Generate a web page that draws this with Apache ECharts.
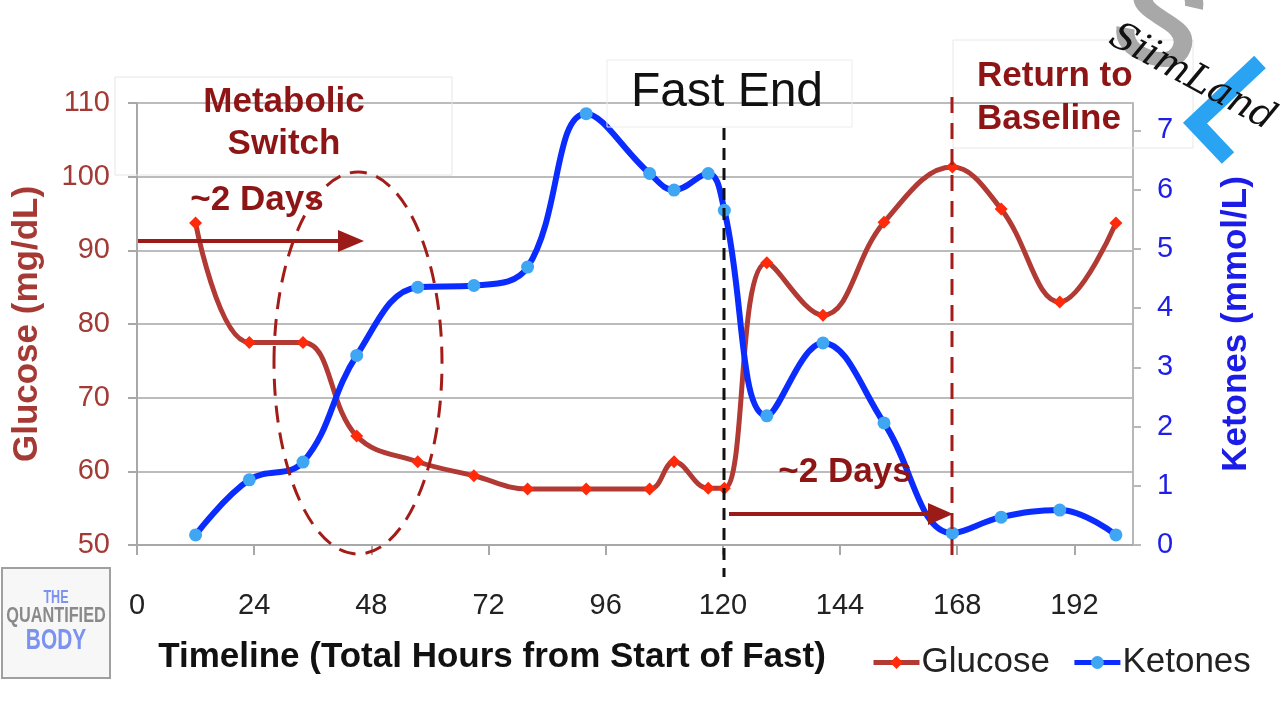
<!DOCTYPE html>
<html>
<head>
<meta charset="utf-8">
<script src="https://cdn.jsdelivr.net/npm/echarts@6/dist/echarts.min.js"></script>
<style>
html,body{margin:0;padding:0;background:#fff;}
#c{width:1280px;height:720px;}
</style>
</head>
<body>
<div id="c"></div>
<script>
// ---- data ----
var hours    = [12, 23, 34, 45, 57.5, 69, 80, 92, 105, 110, 117, 120.3, 129, 140.5, 153, 167, 177, 189, 200.5];
var glucose  = [93.7, 77.5, 77.5, 64.8, 61.3, 59.4, 57.6, 57.6, 57.6, 61.3, 57.7, 57.7, 88.3, 81.2, 93.8, 101.3, 95.6, 83.0, 93.7];
var ketones  = [0.17, 1.10, 1.40, 3.20, 4.35, 4.38, 4.69, 7.28, 6.27, 5.99, 6.27, 5.65, 2.18, 3.41, 2.06, 0.20, 0.47, 0.59, 0.17];
var xTicks   = [0, 24, 48, 72, 96, 120, 144, 168, 192];
var ketTicks = [0, 1, 2, 3, 4, 5, 6, 7];
var seriesNames = ['Glucose', 'Ketones'];

var FONT = 'Liberation Sans, Arial, sans-serif';
var gData = hours.map(function (h, i) { return [h, glucose[i]]; });
var kData = hours.map(function (h, i) { return [h, ketones[i]]; });

var darkRed = '#8e1515';
var chart = echarts.init(document.getElementById('c'), null, {renderer: 'canvas'});

var option = {
  backgroundColor: '#ffffff',
  animation: false,
  textStyle: {fontFamily: FONT},
  grid: {left: 137, right: 147, top: 103, bottom: 175, outerBoundsMode: 'none', containLabel: false},
  legend: {
    data: seriesNames,
    left: 866, top: 640,
    itemWidth: 46, itemHeight: 16, itemGap: 22,
    lineStyle: {width: 5},
    textStyle: {fontSize: 35, color: '#222', fontFamily: FONT, padding: [0, 0, 0, -3]}
  },
  xAxis: {
    type: 'value', min: 0, max: 204, interval: 24,
    axisLine: {show: true, lineStyle: {color: '#a8a8a8', width: 2}},
    axisTick: {show: true, length: 10, inside: false, customValues: xTicks, lineStyle: {color: '#a8a8a8', width: 2}},
    axisLabel: {customValues: xTicks, margin: 46, fontSize: 29, color: '#222', fontFamily: FONT},
    splitLine: {show: false}
  },
  yAxis: [{
    type: 'value', min: 50, max: 110, interval: 10, position: 'left',
    name: 'Glucose (mg/dL)', nameLocation: 'middle', nameGap: 92, nameRotate: 90,
    nameTextStyle: {fontSize: 35, fontWeight: 'bold', color: '#a53a35', fontFamily: FONT},
    axisLine: {show: true, lineStyle: {color: '#a8a8a8', width: 2}},
    axisTick: {show: true, length: 9, lineStyle: {color: '#a8a8a8', width: 2}},
    axisLabel: {margin: 27, fontSize: 29, color: '#a23a35', fontFamily: FONT},
    splitLine: {show: true, lineStyle: {color: '#bcbcbc', width: 2}}
  }, {
    type: 'value', min: 0, max: 7.46, interval: 1, position: 'right',
    name: 'Ketones (mmol/L)', nameLocation: 'middle', nameGap: 86, nameRotate: 90,
    nameTextStyle: {fontSize: 35, fontWeight: 'bold', color: '#1c1ce8', fontFamily: FONT},
    axisLine: {show: true, lineStyle: {color: '#b8b8b8', width: 2}},
    axisTick: {show: true, length: 8, customValues: ketTicks, lineStyle: {color: '#b8b8b8', width: 2}},
    axisLabel: {customValues: ketTicks, margin: 24, fontSize: 29, color: '#1e1ee8', fontFamily: FONT},
    splitLine: {show: false}
  }],
  series: [{
    name: seriesNames[0], type: 'line', yAxisIndex: 0, data: gData,
    smooth: 0.4, symbol: 'diamond', symbolSize: 13,
    lineStyle: {color: '#b13b34', width: 5},
    itemStyle: {color: '#ff2a0a', borderWidth: 0},
    z: 3
  }, {
    name: seriesNames[1], type: 'line', yAxisIndex: 1, data: kData,
    smooth: 0.4, symbol: 'circle', symbolSize: 13,
    lineStyle: {color: '#0a2cff', width: 6},
    itemStyle: {color: '#3ea6f2', borderWidth: 0},
    z: 4
  }],
  graphic: [
    // Metabolic switch box + text
    {type: 'rect', shape: {x: 115, y: 77, width: 337, height: 98}, style: {fill: 'none', stroke: '#e6e6e6', lineWidth: 1}, z: 10},
    {type: 'text', x: 284, y: 102, style: {text: 'Metabolic', font: 'bold 35px ' + FONT, fill: darkRed, align: 'center', verticalAlign: 'middle'}, z: 11},
    {type: 'text', x: 284, y: 144, style: {text: 'Switch', font: 'bold 35px ' + FONT, fill: darkRed, align: 'center', verticalAlign: 'middle'}, z: 11},
    {type: 'text', x: 257, y: 200, style: {text: '~2 Days', font: 'bold 35px ' + FONT, fill: darkRed, align: 'center', verticalAlign: 'middle'}, z: 11},
    {type: 'line', shape: {x1: 138, y1: 241, x2: 342, y2: 241}, style: {stroke: '#9a1b17', lineWidth: 4}, z: 11},
    {type: 'polygon', shape: {points: [[338, 230], [364, 241], [338, 252]]}, style: {fill: '#9a1b17'}, z: 11},
    {type: 'ellipse', shape: {cx: 358, cy: 363, rx: 84, ry: 191}, style: {fill: 'none', stroke: '#a31d18', lineWidth: 3, lineDash: [17, 10]}, z: 11},
    // Fast End
    {type: 'rect', shape: {x: 607, y: 60, width: 245, height: 67}, style: {fill: 'none', stroke: '#ececec', lineWidth: 1}, z: 10},
    {type: 'text', x: 727, y: 93, style: {text: 'Fast End', font: '48px ' + FONT, fill: '#111', align: 'center', verticalAlign: 'middle'}, z: 11},
    {type: 'line', shape: {x1: 724, y1: 128, x2: 724, y2: 577}, style: {stroke: '#111', lineWidth: 3, lineDash: [12, 8]}, z: 11},
    // second ~2 days
    {type: 'text', x: 845, y: 472, style: {text: '~2 Days', font: 'bold 35px ' + FONT, fill: darkRed, align: 'center', verticalAlign: 'middle'}, z: 11},
    {type: 'line', shape: {x1: 729, y1: 514, x2: 932, y2: 514}, style: {stroke: '#9a1b17', lineWidth: 4}, z: 11},
    {type: 'polygon', shape: {points: [[928, 503], [953, 514], [928, 525]]}, style: {fill: '#9a1b17'}, z: 11},
    // Return to baseline
    {type: 'line', shape: {x1: 952, y1: 97, x2: 952, y2: 556}, style: {stroke: '#a31d18', lineWidth: 3, lineDash: [16, 10]}, z: 11},
    {type: 'rect', shape: {x: 953, y: 40, width: 240, height: 108}, style: {fill: 'none', stroke: '#e8e8e8', lineWidth: 1}, z: 10},
    {type: 'text', x: 977, y: 76, style: {text: 'Return to', font: 'bold 35px ' + FONT, fill: darkRed, align: 'left', verticalAlign: 'middle'}, z: 11},
    {type: 'text', x: 977, y: 119, style: {text: 'Baseline', font: 'bold 35px ' + FONT, fill: darkRed, align: 'left', verticalAlign: 'middle'}, z: 11},
    // x-axis title
    {type: 'text', x: 492, y: 657, style: {text: 'Timeline (Total Hours from Start of Fast)', font: 'bold 35px ' + FONT, fill: '#111', align: 'center', verticalAlign: 'middle'}, z: 11},
    // Quantified body logo
    {type: 'rect', shape: {x: 2, y: 568, width: 108, height: 110}, style: {fill: '#f7f7f7', stroke: '#a0a0a0', lineWidth: 2}, z: 10},
    {type: 'text', x: 56, y: 598, scaleX: 0.7, style: {text: 'THE', font: 'bold 18px ' + FONT, fill: '#7b93ee', align: 'center', verticalAlign: 'middle'}, z: 11},
    {type: 'text', x: 56, y: 616, scaleX: 0.74, style: {text: 'QUANTIFIED', font: 'bold 22px ' + FONT, fill: '#8a8a8a', align: 'center', verticalAlign: 'middle'}, z: 11},
    {type: 'text', x: 56, y: 641, scaleX: 0.72, style: {text: 'BODY', font: 'bold 29px ' + FONT, fill: '#7b93ee', align: 'center', verticalAlign: 'middle'}, z: 11},
    // SiimLand watermark
    {type: 'text', x: 1158, y: 28, rotation: -0.35, style: {text: 'S', font: 'bold 130px ' + FONT, fill: '#a8a8a8', align: 'center', verticalAlign: 'middle'}, z: 12},
    {type: 'polyline', shape: {points: [[1260, 62], [1195, 123], [1228, 158]]}, style: {stroke: '#2aa4f2', lineWidth: 17, fill: 'none'}, z: 12},
    {type: 'text', x: 1192, y: 78, rotation: -0.5, style: {text: 'SiimLand', font: 'italic 38px "DejaVu Serif", serif', fill: '#111', align: 'center', verticalAlign: 'middle'}, z: 13}
  ]
};
chart.setOption(option);
</script>
</body>
</html>
